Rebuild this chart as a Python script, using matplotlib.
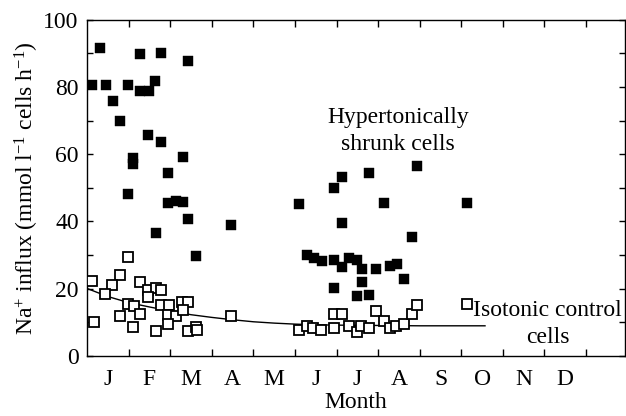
import matplotlib
matplotlib.use("Agg")
from matplotlib import pyplot as plt
import numpy as np

# hypertonically shrunk cells (filled squares)
shrunk_month = [0.31, 1.27, 1.77, 2.44, 0.13, 0.45, 0.98, 1.27, 1.48, 1.64,
                0.62, 0.79, 1.47, 1.77, 1.11, 1.11, 2.32, 1.95, 0.98, 1.95,
                2.14, 2.32, 2.44, 1.65, 2.61, 3.46,
                5.10, 6.12, 5.95, 6.78, 7.94, 7.15, 9.14, 6.12, 7.81, 5.28,
                5.46, 5.64, 5.95, 6.12, 6.30, 6.50, 6.62, 6.62, 6.96, 7.28,
                7.46, 7.63, 5.95, 6.48, 6.79]
shrunk_influx = [91.6, 89.7, 90.1, 87.7, 80.6, 80.6, 80.6, 78.8, 78.8, 81.7,
                 75.7, 69.9, 65.8, 63.7, 59.0, 57.0, 59.2, 54.3, 48.3, 45.6,
                 46.2, 45.9, 40.7, 36.5, 29.7, 38.9,
                 45.1, 53.3, 50.0, 54.5, 56.5, 45.4, 45.4, 39.6, 35.5, 30.0,
                 29.0, 28.2, 28.7, 26.5, 29.0, 28.5, 25.8, 22.1, 25.8, 26.7,
                 27.5, 22.8, 20.3, 17.8, 18.1]

# isotonic control cells (open squares)
control_month = [0.98, 0.13, 0.79, 0.61, 0.43, 1.27, 1.47, 1.66, 1.78, 1.47,
                 0.98, 1.14, 1.78, 1.98, 2.28, 2.44, 0.79, 1.27, 1.94, 2.14,
                 2.32, 0.17, 1.94, 1.11, 1.65, 2.44, 2.61, 2.64, 3.46,
                 5.10, 5.28, 5.44, 5.63, 5.95, 5.95, 6.12, 6.30, 6.48, 6.60,
                 6.78, 6.96, 7.15, 7.28, 7.44, 7.63, 7.81, 7.94, 9.14]
control_influx = [29.4, 22.2, 24.0, 21.0, 18.5, 22.0, 19.5, 20.1, 19.5, 17.7,
                  15.6, 15.0, 15.2, 15.2, 16.2, 16.1, 12.0, 12.6, 12.3, 11.9,
                  13.7, 10.2, 9.4, 8.5, 7.6, 7.5, 8.6, 7.7, 12.0,
                  7.9, 8.9, 8.2, 7.7, 8.4, 12.4, 12.4, 8.9, 7.2, 8.9,
                  8.2, 13.4, 10.5, 8.2, 9.0, 9.5, 12.4, 15.2, 15.4]

# fitted line through the control cells
fit_month = [0, 0.5, 1, 1.5, 2, 2.5, 3, 3.5, 4, 4.5, 5, 5.5, 6, 7, 8, 9, 9.57]
fit_influx = [20.1, 17.7, 15.9, 14.6, 13.4, 12.3, 11.5, 10.8, 10.2, 9.8,
              9.5, 9.3, 9.2, 9.1, 9.0, 9.0, 9.0]

month_labels = ["J", "F", "M", "A", "M", "J", "J", "A", "S", "O", "N", "D"]

plt.rcParams["font.family"] = "Liberation Serif"
plt.rcParams["mathtext.fontset"] = "custom"
plt.rcParams["mathtext.rm"] = "Liberation Serif"
plt.rcParams["mathtext.it"] = "Liberation Serif:italic"

fig = plt.figure(figsize=(6.26, 4.16), dpi=100)
ax = fig.add_axes([0.139, 0.144, 0.859, 0.809])

ax.plot(fit_month, fit_influx, color="black", lw=1.0, zorder=2)
ax.plot(control_month, control_influx, ls="none", marker="s", ms=6.8,
        mfc="white", mec="black", mew=1.3, zorder=3)
ax.plot(shrunk_month, shrunk_influx, ls="none", marker="s", ms=7.5,
        mfc="black", mec="black", mew=0.3, zorder=4)

ax.set_xlim(0, 12.93)
ax.set_ylim(0, 100)

ax.set_xticks(np.arange(1, 13))
ax.set_xticklabels([])
ax.set_xticks(np.arange(12) + 0.5, minor=True)
ax.set_xticklabels(month_labels, minor=True, fontsize=17)
ax.tick_params(axis="x", which="minor", length=0, pad=9)
ax.tick_params(axis="x", which="major", direction="in", length=5,
               top=True, width=1)

ax.set_yticks(np.arange(0, 101, 20))
ax.set_yticks(np.arange(10, 100, 20), minor=True)
ax.tick_params(axis="y", which="both", direction="in", length=4, width=1,
               right=True, labelsize=17, pad=6)

for s in ax.spines.values():
    s.set_linewidth(1.0)

ax.set_xlabel("Month", fontsize=17, labelpad=2)
ax.set_ylabel("Na$^{+}$ influx (mmol l$^{\\mathrm{-1}}$ cells h$^{\\mathrm{-1}}$)",
              fontsize=17, labelpad=2)

ax.text(7.48, 66.9, "Hypertonically\nshrunk cells", fontsize=17,
        ha="center", va="center", linespacing=1.35)
ax.text(11.08, 9.6, "Isotonic control\ncells", fontsize=17,
        ha="center", va="center", linespacing=1.35)

fig.savefig("out.png", dpi=100)
